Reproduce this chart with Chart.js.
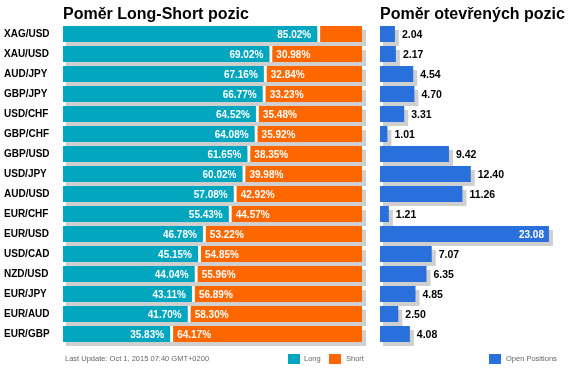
<!DOCTYPE html>
<html><head><meta charset="utf-8">
<script src="https://cdn.jsdelivr.net/npm/chart.js@4"></script>
<style>
html,body{margin:0;padding:0;background:#fff;width:580px;height:373px;overflow:hidden;font-family:"Liberation Sans",Arial,sans-serif;}
canvas{position:absolute;top:0;}
#left{left:0;}
#right{left:370px;}
.title{position:absolute;top:6px;font-weight:bold;font-size:16px;line-height:16px;color:#000;white-space:nowrap;}
.small{position:absolute;top:355px;font-size:7.5px;line-height:8px;color:#666;white-space:nowrap;}
.box{position:absolute;top:354px;width:12px;height:10px;}
</style>
</head><body>
<canvas id="left" width="370" height="373"></canvas>
<canvas id="right" width="210" height="373"></canvas>
<div class="title" style="left:63px">Poměr Long-Short pozic</div>
<div class="title" style="left:380px">Poměr otevřených pozic</div>
<div class="small" style="left:65px">Last Update: Oct 1, 2015 07:40 GMT+0200</div>
<div class="box" style="left:288px;background:#02A6BF"></div>
<div class="small" style="left:304px">Long</div>
<div class="box" style="left:329px;background:#FE6600"></div>
<div class="small" style="left:346px">Short</div>
<div class="box" style="left:489px;background:#2A70DC"></div>
<div class="small" style="left:506px">Open Positions</div>
<script>
const categories = ["XAG/USD","XAU/USD","AUD/JPY","GBP/JPY","USD/CHF","GBP/CHF","GBP/USD","USD/JPY","AUD/USD","EUR/CHF","EUR/USD","USD/CAD","NZD/USD","EUR/JPY","EUR/AUD","EUR/GBP"];
const longPct = [85.02,69.02,67.16,66.77,64.52,64.08,61.65,60.02,57.08,55.43,46.78,45.15,44.04,43.11,41.70,35.83];
const shortPct = [14.98,30.98,32.84,33.23,35.48,35.92,38.35,39.98,42.92,44.57,53.22,54.85,55.96,56.89,58.30,64.17];
const openPos = [2.04,2.17,4.54,4.70,3.31,1.01,9.42,12.40,11.26,1.21,23.08,7.07,6.35,4.85,2.50,4.08];

const TEAL = '#02A6BF', ORANGE = '#FE6600', BLUE = '#2A70DC', GRAY = '#CFCFCF';
const FONT = "'Liberation Sans', Arial, sans-serif";
Chart.defaults.font.family = FONT;

const shadowPlugin = {
  id: 'shadow',
  beforeDatasetsDraw(chart, args, opts) {
    const ctx = chart.ctx, xs = chart.scales.x;
    const meta = chart.getDatasetMeta(0);
    ctx.save();
    ctx.fillStyle = GRAY;
    meta.data.forEach((el) => {
      const p = el.getProps(['x', 'y', 'height'], true);
      const x0 = xs.getPixelForValue(0);
      const x1 = opts.full ? xs.getPixelForValue(opts.full) : p.x;
      ctx.fillRect(x0 + 3, p.y - p.height / 2 + 4, x1 + 4 - (x0 + 3), p.height);
    });
    ctx.restore();
  }
};

const leftLabels = {
  id: 'leftLabels',
  afterDatasetsDraw(chart) {
    const ctx = chart.ctx;
    ctx.save();
    ctx.font = "bold 10px " + FONT;
    ctx.fillStyle = '#fff';
    ctx.textBaseline = 'middle';
    chart.getDatasetMeta(0).data.forEach((el, i) => {
      const p = el.getProps(['x', 'y'], true);
      ctx.textAlign = 'right';
      ctx.fillText(longPct[i].toFixed(2) + '%', p.x - 6, p.y + 1);
    });
    chart.getDatasetMeta(1).data.forEach((el, i) => {
      if (shortPct[i] < 20) return;
      const p = el.getProps(['base', 'y'], true);
      ctx.textAlign = 'left';
      ctx.fillText(shortPct[i].toFixed(2) + '%', p.base + 7, p.y + 1);
    });
    ctx.restore();
  }
};

const rightLabels = {
  id: 'rightLabels',
  afterDatasetsDraw(chart) {
    const ctx = chart.ctx;
    ctx.save();
    ctx.textBaseline = 'middle';
    chart.getDatasetMeta(0).data.forEach((el, i) => {
      const p = el.getProps(['x', 'y'], true);
      const t = openPos[i].toFixed(2);
      ctx.font = "bold 10.5px " + FONT;
      const w = ctx.measureText(t).width;
      if (p.x + 7 + w > chart.width - 2) {
        ctx.font = "bold 10px " + FONT;
        ctx.fillStyle = '#fff';
        ctx.textAlign = 'right';
        ctx.fillText(t, p.x - 5, p.y + 1);
      } else {
        ctx.fillStyle = '#000';
        ctx.textAlign = 'left';
        ctx.fillText(t, p.x + 7, p.y + 1);
      }
    });
    ctx.restore();
  }
};

new Chart(document.getElementById('left'), {
  type: 'bar',
  data: {
    labels: categories,
    datasets: [
      { label: 'Long', data: longPct, backgroundColor: TEAL, borderWidth: 0, categoryPercentage: 0.8, barPercentage: 1 },
      { label: 'Short', data: shortPct, backgroundColor: ORANGE, borderColor: '#fff',
        borderWidth: { left: 3, right: 0, top: 0, bottom: 0 }, borderSkipped: false, categoryPercentage: 0.8, barPercentage: 1 }
    ]
  },
  options: {
    indexAxis: 'y', responsive: false, animation: false, events: [],
    layout: { padding: { left: 4, right: 8, top: 24, bottom: 29 } },
    plugins: { legend: { display: false }, tooltip: { enabled: false }, shadow: { full: 100 } },
    scales: {
      x: { stacked: true, display: false, min: 0, max: 100 },
      y: { stacked: true, grid: { display: false }, border: { display: false },
           ticks: { crossAlign: 'far', padding: 0, color: '#000', font: { size: 10, weight: 'bold' } },
           afterFit(s) { s.width = 59; } }
    }
  },
  plugins: [shadowPlugin, leftLabels]
});

new Chart(document.getElementById('right'), {
  type: 'bar',
  data: {
    labels: categories,
    datasets: [
      { label: 'Open Positions', data: openPos, backgroundColor: BLUE, borderWidth: 0, categoryPercentage: 0.8, barPercentage: 1 }
    ]
  },
  options: {
    indexAxis: 'y', responsive: false, animation: false, events: [],
    layout: { padding: { left: 10, right: 17, top: 24, bottom: 29 } },
    plugins: { legend: { display: false }, tooltip: { enabled: false }, shadow: { full: 0 } },
    scales: {
      x: { display: false, min: 0, max: 25 },
      y: { display: false }
    }
  },
  plugins: [shadowPlugin, rightLabels]
});
</script>
</body></html>
